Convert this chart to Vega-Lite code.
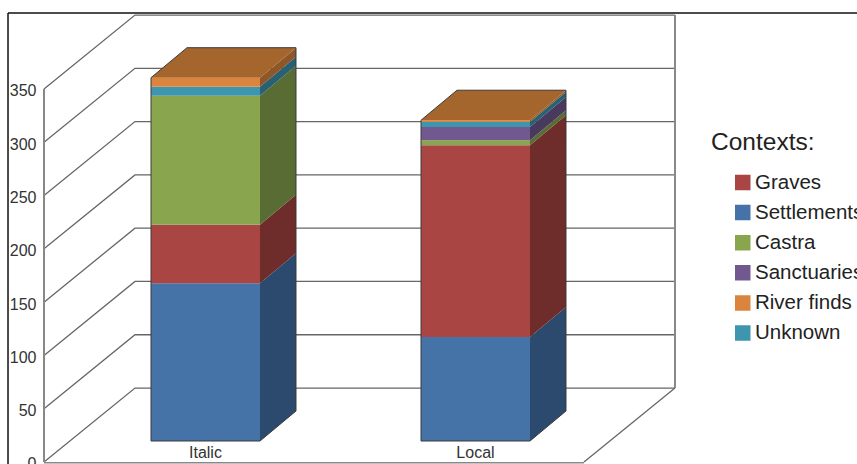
{
"$schema":"https://vega.github.io/schema/vega-lite/v6.json",
"width":857,"height":464,"autosize":{"type":"none"},"padding":0,"background":"white",
"config":{"view":{"stroke":null},"font":"Liberation Sans"},
"datasets":{
"bars":[
{"origin":"Italic","context":"Settlements","value":148},
{"origin":"Italic","context":"Graves","value":55},
{"origin":"Italic","context":"Castra","value":121},
{"origin":"Italic","context":"Sanctuaries","value":0},
{"origin":"Italic","context":"Unknown","value":8.5},
{"origin":"Italic","context":"River finds","value":8.4},
{"origin":"Local","context":"Settlements","value":97.6},
{"origin":"Local","context":"Graves","value":180},
{"origin":"Local","context":"Castra","value":4.6},
{"origin":"Local","context":"Sanctuaries","value":12.5},
{"origin":"Local","context":"Unknown","value":4.7},
{"origin":"Local","context":"River finds","value":1.6}
],
"ticks":[{"tick":0},{"tick":50},{"tick":100},{"tick":150},{"tick":200},{"tick":250},{"tick":300},{"tick":350}],
"note":[{"label":"Contexts:"}]
},
"layer":[
{"data":{"name":"ticks"},
 "transform":[{"calculate":"[0,1,2]","as":"step"},{"flatten":["step"]},
  {"calculate":"[0,0.337,2.337][datum.step]","as":"u"},
  {"calculate":"datum.tick+(datum.step>0?69.4:0)","as":"v"}],
 "mark":{"type":"line","color":"#666","strokeWidth":1.3},
 "encoding":{
  "x":{"field":"u","type":"quantitative","scale":{"domain":[-0.16296,3.01111],"nice":false,"zero":false},"axis":null},
  "y":{"field":"v","type":"quantitative","scale":{"domain":[-1.877,433.5],"nice":false,"zero":false},
   "axis":{"orient":"left","offset":-44,"values":[0,50,100,150,200,250,300,350],"title":null,"domain":false,"ticks":false,"grid":false,"labelFontSize":16,"labelColor":"#333","labelPadding":8,"labelOffset":2,"labelFont":"Liberation Sans"}},
  "detail":{"field":"tick"},
  "order":{"field":"step"}}},
{"data":{"name":"note"},"mark":{"type":"rule","color":"#888","strokeWidth":2},
 "encoding":{"x":{"datum":0,"type":"quantitative"},"y":{"datum":0,"type":"quantitative"},"y2":{"datum":350}}},
{"data":{"name":"note"},"mark":{"type":"rule","color":"#888","strokeWidth":2},
 "encoding":{"x":{"datum":2.337,"type":"quantitative"},"y":{"datum":69.4,"type":"quantitative"},"y2":{"datum":419.4}}},
{"data":{"name":"note"},"mark":{"type":"rule","color":"#666","strokeWidth":1.3},
 "encoding":{"x":{"datum":2,"type":"quantitative"},"x2":{"datum":2.337},"y":{"datum":0,"type":"quantitative"},"y2":{"datum":69.4}}},
{"data":{"name":"note"},"mark":{"type":"rule","color":"#888","strokeWidth":1.5},
 "encoding":{"x":{"datum":0,"type":"quantitative"},"x2":{"datum":2},"y":{"datum":-0.6,"type":"quantitative"}}},
{"data":{"name":"note"},"mark":{"type":"rule","color":"#111","strokeWidth":1.5},
 "encoding":{"x":{"datum":-0.1333,"type":"quantitative"},"x2":{"datum":3.0111},"y":{"datum":421.3,"type":"quantitative"}}},
{"data":{"name":"note"},"mark":{"type":"rule","color":"#111","strokeWidth":1.5},
 "encoding":{"x":{"datum":-0.1333,"type":"quantitative"},"y":{"datum":-1.877,"type":"quantitative"},"y2":{"datum":421.3}}},
{"data":{"name":"bars"},
 "transform":[{"stack":"value","groupby":["origin"],"as":["v0","v1"]},
  {"calculate":"(datum.origin==='Italic'?0:1)+0.3963","as":"left"},
  {"calculate":"datum.left+0.4037","as":"right"},
  {"calculate":"datum.v0+19.7","as":"lo"},
  {"calculate":"datum.v1+19.7","as":"hi"}],
 "mark":{"type":"rect"},
 "encoding":{
  "x":{"field":"left","type":"quantitative"},"x2":{"field":"right"},
  "y":{"field":"lo","type":"quantitative"},"y2":{"field":"hi"},
  "color":{"field":"context","type":"nominal",
   "scale":{"domain":["Graves","Settlements","Castra","Sanctuaries","River finds","Unknown"],"range":["#a94542","#4572a7","#89a54e","#71588f","#db843d","#3d96ae"]},
   "legend":{"title":null,"orient":"none","legendX":732.5,"legendY":171,"symbolType":"square","symbolSize":240,"symbolStrokeWidth":0,"symbolOpacity":1,"labelFontSize":20.5,"labelFont":"Liberation Sans","labelColor":"#222","labelLimit":300,"labelOffset":2,"rowPadding":7.1,"clipHeight":23}}}},
{"data":{"name":"bars"},
 "transform":[{"stack":"value","groupby":["origin"],"as":["v0","v1"]},
  {"calculate":"[0,1]","as":"d"},{"flatten":["d"]},
  {"calculate":"(datum.origin==='Italic'?0:1)+0.8+0.1333*datum.d","as":"u"},
  {"calculate":"datum.v0+19.7+28.15*datum.d","as":"lo"},
  {"calculate":"datum.v1+19.7+28.15*datum.d","as":"hi"}],
 "mark":{"type":"area","interpolate":"linear"},
 "encoding":{
  "x":{"field":"u","type":"quantitative"},
  "y":{"field":"lo","type":"quantitative","stack":null},"y2":{"field":"hi"},
  "detail":{"field":"origin"},
  "fill":{"field":"context","type":"nominal","legend":null,
   "scale":{"domain":["Graves","Settlements","Castra","Sanctuaries","River finds","Unknown"],"range":["#6e2c2a","#2c4a6e","#596c33","#49395d","#8f5628","#276172"]}}}},
{"data":{"name":"bars"},
 "transform":[{"aggregate":[{"op":"sum","field":"value","as":"total"}],"groupby":["origin"]},
  {"calculate":"[0,1]","as":"d"},{"flatten":["d"]},
  {"calculate":"(datum.origin==='Italic'?0:1)+0.3963+0.1333*datum.d","as":"left"},
  {"calculate":"datum.left+0.4037","as":"right"},
  {"calculate":"datum.total+19.7+28.15*datum.d","as":"v"}],
 "mark":{"type":"area","orient":"horizontal","color":"#a5662e","opacity":1},
 "encoding":{
  "y":{"field":"v","type":"quantitative","stack":null},
  "x":{"field":"left","type":"quantitative"},"x2":{"field":"right"},
  "detail":{"field":"origin"}}},
{"data":{"name":"bars"},
 "transform":[{"aggregate":[{"op":"sum","field":"value","as":"total"}],"groupby":["origin"]},
  {"calculate":"[0,1,2,3,4,5,6]","as":"step"},{"flatten":["step"]},
  {"calculate":"(datum.origin==='Italic'?0:1)","as":"i"},
  {"calculate":"datum.i+[0.3963,0.3963,0.8,0.9333,0.9333,0.5296,0.3963][datum.step]","as":"u"},
  {"calculate":"[datum.total+19.7,19.7,19.7,47.85,datum.total+47.85,datum.total+47.85,datum.total+19.7][datum.step]","as":"v"}],
 "mark":{"type":"line","color":"#3a3a3a","strokeWidth":1},
 "encoding":{
  "x":{"field":"u","type":"quantitative"},
  "y":{"field":"v","type":"quantitative"},
  "detail":{"field":"origin"},
  "order":{"field":"step"}}},
{"data":{"name":"bars"},
 "transform":[{"aggregate":[{"op":"sum","field":"value","as":"total"}],"groupby":["origin"]},
  {"calculate":"(datum.origin==='Italic'?0:1)+0.598","as":"u"},
  {"calculate":"8.6","as":"v"}],
 "mark":{"type":"text","fontSize":16,"color":"#333","align":"center","baseline":"middle","font":"Liberation Sans"},
 "encoding":{
  "x":{"field":"u","type":"quantitative"},
  "y":{"field":"v","type":"quantitative"},
  "text":{"field":"origin"}}},
{"data":{"name":"note"},
 "transform":[{"calculate":"2.4704","as":"u"},{"calculate":"292.8","as":"v"}],
 "mark":{"type":"text","fontSize":24.5,"color":"#222","align":"left","baseline":"alphabetic","font":"Liberation Sans"},
 "encoding":{
  "x":{"field":"u","type":"quantitative"},
  "y":{"field":"v","type":"quantitative"},
  "text":{"field":"label"}}}
],
"resolve":{"scale":{"color":"shared","fill":"independent"}}
}
